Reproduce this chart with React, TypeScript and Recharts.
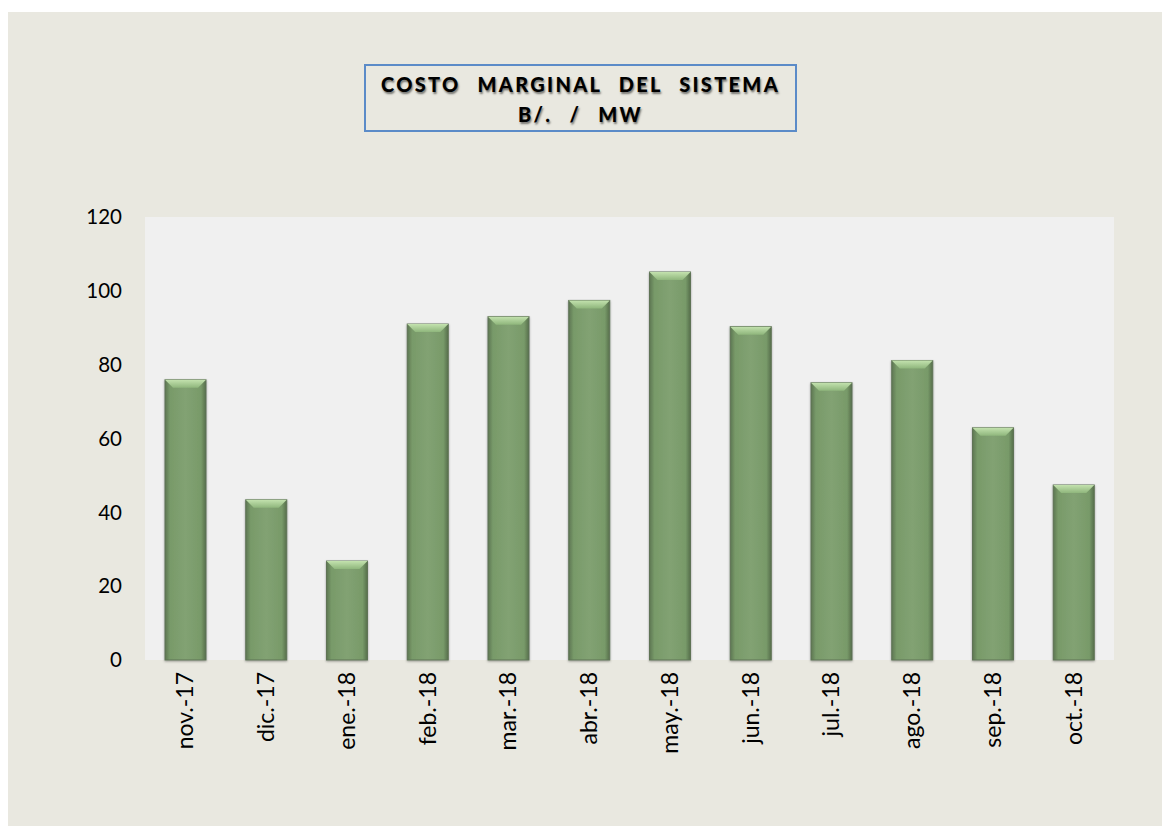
import React from 'react';
import { BarChart, Bar, XAxis, YAxis, CartesianGrid } from 'recharts';

// months shown on the category axis
const months = [
  'nov.-17', 'dic.-17', 'ene.-18', 'feb.-18', 'mar.-18', 'abr.-18',
  'may.-18', 'jun.-18', 'jul.-18', 'ago.-18', 'sep.-18', 'oct.-18',
];

// costo marginal, B/. por MW
const costo = [75.9, 43.4, 26.8, 91.0, 93.0, 97.4, 105.1, 90.3, 75.1, 81.1, 62.9, 47.4];

const yTicks = [0, 20, 40, 60, 80, 100, 120];

const data = months.map((mes, i) => ({ mes, costo: costo[i] }));

const FONT = 'Lato, "Open Sans", sans-serif';

// bar with shaded sides and a bevelled top, like the office chart style
const BevelBar = (props: any) => {
  const { x, y, width, height } = props;
  if (!height || height <= 0) return null;
  const b = Math.min(8, height / 2);
  return (
    <g filter="url(#barShadow)">
      <rect x={x} y={y} width={width} height={height} fill="url(#barSide)" stroke="#5f7356" strokeWidth={1} />
      <polygon
        points={`${x},${y} ${x + width},${y} ${x + width - b},${y + b} ${x + b},${y + b}`}
        fill="url(#barTop)"
      />
    </g>
  );
};

const MonthTick = (props: any) => {
  const { x, y, payload } = props;
  return (
    <g transform={`translate(${x},${y})`}>
      <text
        transform="rotate(-90)"
        textAnchor="end"
        dy="0.35em"
        fontFamily={FONT}
        fontSize={23}
        fill="#000"
      >
        {payload.value}
      </text>
    </g>
  );
};

const App = () => {
  return (
    <div
      style={{
        position: 'relative',
        marginTop: 4,
        width: 1162,
        height: 814,
        background: '#E9E8E0',
      }}
    >
      <div
        style={{
          position: 'absolute',
          left: 356,
          top: 52,
          width: 433,
          height: 68,
          border: '2px solid #5B8BC8',
          boxSizing: 'border-box',
          fontFamily: FONT,
          fontWeight: 900,
          fontSize: 20,
          letterSpacing: 2.3,
          wordSpacing: 10,
          textAlign: 'center',
          lineHeight: '30px',
          paddingTop: 3,
          color: '#000',
          textShadow: '1px 2px 2px rgba(0,0,0,0.5)',
        }}
      >
        <div>COSTO MARGINAL DEL SISTEMA</div>
        <div>B/. / MW</div>
      </div>
      <BarChart
        width={1162}
        height={814}
        data={data}
        margin={{ top: 205, right: 56, bottom: 0, left: 0 }}
        barSize={41}
      >
        <defs>
          <linearGradient id="barSide" x1="0" y1="0" x2="1" y2="0">
            <stop offset="0" stopColor="#5d7652" />
            <stop offset="0.12" stopColor="#789a69" />
            <stop offset="0.5" stopColor="#82a273" />
            <stop offset="0.88" stopColor="#789a69" />
            <stop offset="1" stopColor="#566e4b" />
          </linearGradient>
          <linearGradient id="barTop" x1="0" y1="0" x2="0" y2="1">
            <stop offset="0" stopColor="#c3e2ae" />
            <stop offset="1" stopColor="#8fb67c" />
          </linearGradient>
          <filter id="barShadow" x="-20%" y="-5%" width="140%" height="115%">
            <feDropShadow dx="0" dy="1" stdDeviation="1.2" floodColor="#000" floodOpacity="0.35" />
          </filter>
        </defs>
        <CartesianGrid horizontal={false} vertical={false} fill="#F0F0F0" />
        <XAxis
          dataKey="mes"
          axisLine={false}
          tickLine={false}
          tickMargin={6}
          height={166}
          interval={0}
          tick={<MonthTick />}
        />
        <YAxis
          domain={[0, 120]}
          ticks={yTicks}
          axisLine={false}
          tickLine={false}
          tickMargin={17}
          width={137}
          tick={{ fontFamily: FONT, fontSize: 20.5, fill: '#000' }}
        />
        <Bar dataKey="costo" shape={<BevelBar />} isAnimationActive={false} />
      </BarChart>
    </div>
  );
};

export default App;
